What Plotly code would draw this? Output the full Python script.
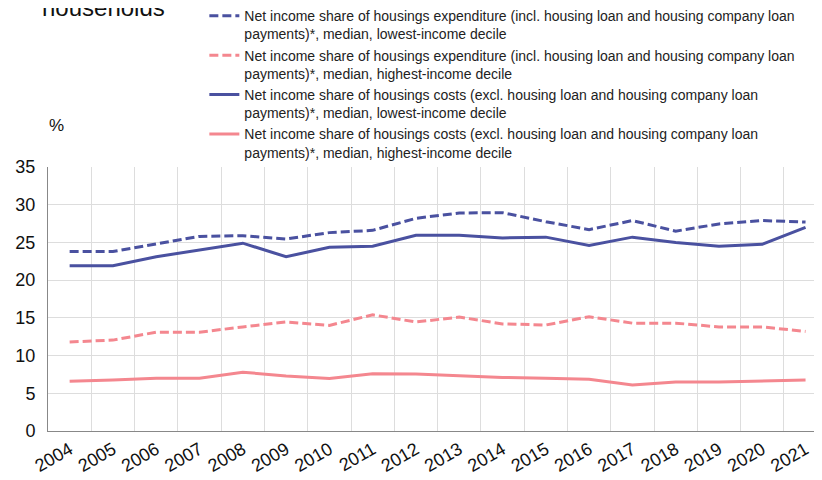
import plotly.graph_objects as go

years = [str(y) for y in range(2004, 2022)]

incl_lowest = [23.8, 23.8, 24.8, 25.8, 25.9, 25.45, 26.3, 26.6, 28.2, 28.9, 28.95, 27.75, 26.7, 27.9, 26.5, 27.45, 27.9, 27.7]
incl_highest = [11.8, 12.05, 13.1, 13.1, 13.8, 14.45, 14.0, 15.4, 14.45, 15.1, 14.2, 14.05, 15.15, 14.3, 14.3, 13.8, 13.8, 13.2]
excl_lowest = [21.9, 21.9, 23.1, 24.0, 24.9, 23.1, 24.35, 24.5, 25.95, 25.95, 25.6, 25.7, 24.6, 25.7, 25.0, 24.5, 24.75, 27.0]
excl_highest = [6.6, 6.75, 7.0, 7.0, 7.8, 7.3, 6.95, 7.6, 7.55, 7.35, 7.1, 7.0, 6.85, 6.1, 6.5, 6.5, 6.6, 6.75]

names = [
    "Net income share of housings expenditure (incl. housing loan and housing company loan<br>payments)*, median, lowest-income decile",
    "Net income share of housings expenditure (incl. housing loan and housing company loan<br>payments)*, median, highest-income decile",
    "Net income share of housings costs (excl. housing loan and housing company loan<br>payments)*, median, lowest-income decile",
    "Net income share of housings costs (excl. housing loan and housing company loan<br>payments)*, median, highest-income decile",
]

BLUE = "#4a51a0"
PINK = "#f4878f"

fig = go.Figure()
series = [
    (incl_lowest, BLUE, "9px,4px"),
    (incl_highest, PINK, "9px,4px"),
    (excl_lowest, BLUE, "solid"),
    (excl_highest, PINK, "solid"),
]
for (vals, col, dash), name in zip(series, names):
    fig.add_trace(go.Scatter(x=years, y=vals, mode="lines", name=name,
                             line=dict(color=col, width=3, dash=dash)))

# page body has an 8px offset; figure sized so it ends at the window edge
fig.update_layout(
    width=814, height=472,
    margin=dict(l=40, r=0, t=159, b=49, autoexpand=False),
    paper_bgcolor="white", plot_bgcolor="white",
    font=dict(family="Liberation Sans, Arial, sans-serif", color="#222222"),
    showlegend=True,
    legend=dict(x=0.202, y=1.632, xanchor="left", yanchor="top",
                yref="paper", valign="top",
                font=dict(size=14, color="#222222"),
                bgcolor="rgba(0,0,0,0)", tracegroupgap=0),
)

fig.update_xaxes(
    type="category", tickson="boundaries", range=[-0.5, 17.38],
    showgrid=True, gridcolor="#dddddd", gridwidth=1,
    showline=True, linecolor="#888888", linewidth=1,
    tickangle=-30, tickfont=dict(size=18, color="#111111"),
    ticks="", mirror=False, automargin=False,
)
fig.update_yaxes(
    range=[0, 35], dtick=5, showgrid=True, gridcolor="#dddddd", gridwidth=1,
    showline=True, linecolor="#888888", linewidth=1,
    tickfont=dict(size=18, color="#111111"), ticks="outside", ticklen=8, tickcolor="white",
    zeroline=False, automargin=False,
)

fig.add_annotation(text="%", xref="paper", yref="paper", x=-0.001, y=1.0,
                   xanchor="left", yanchor="bottom", yshift=30, showarrow=False,
                   font=dict(size=17, color="#111111"))
fig.add_annotation(text="households", xref="paper", yref="paper", x=-0.01, y=1.0,
                   xanchor="left", yanchor="bottom", yshift=144, showarrow=False,
                   font=dict(size=24, color="#111111"))

fig.write_html("out.html")
